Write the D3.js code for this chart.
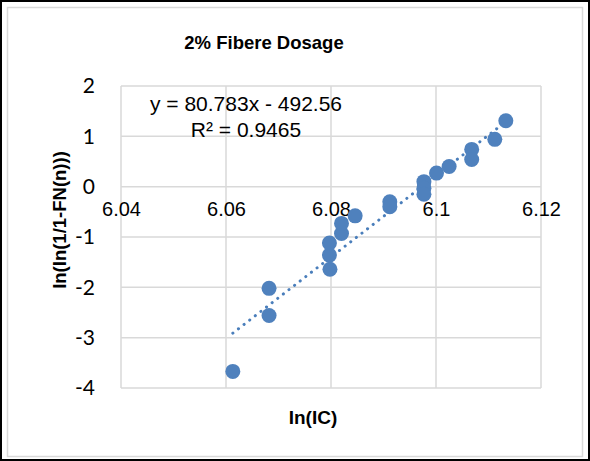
<!DOCTYPE html>
<html>
<head>
<meta charset="utf-8">
<script src="https://cdn.jsdelivr.net/npm/d3@7"></script>
<style>
  body { margin: 0; background: #fff; }
  svg { display: block; }
</style>
</head>
<body>
<svg id="chart"></svg>
<script>
// data: ln(IC) vs ln(ln(1/1-FN(n)))
let lnIC = [6.0613, 6.0682, 6.0682, 6.0798, 6.0797, 6.0797, 6.0820, 6.0820, 6.0846,
            6.0912, 6.0912, 6.0977, 6.0977, 6.0977, 6.1001, 6.1025, 6.1068, 6.1068,
            6.1112, 6.1133];
let lnLn = [-3.67, -2.02, -2.56, -1.64, -1.36, -1.12, -0.93, -0.73, -0.58,
            -0.30, -0.40, 0.10, -0.03, -0.15, 0.27, 0.40, 0.74, 0.54,
            0.94, 1.31];
let xTicks = [6.04, 6.06, 6.08, 6.1, 6.12];
let yTicks = [2, 1, 0, -1, -2, -3, -4];
let trend = [80.783, -492.56];   // slope, intercept
let rSquared = 0.9465;

let points = lnIC.map((x, i) => ({x: x, y: lnLn[i]}));

//config
function getConfig(){
    let width = 590;
    let height = 461;
    let margin = {top: 86, bottom: 73, left: 121, right: 49};
    let bodyWidth = width - margin.left - margin.right;
    let bodyHeight = height - margin.top - margin.bottom;
    let container = d3.select('#chart')
        .attr('width', width)
        .attr('height', height);
    return {width, height, margin, bodyWidth, bodyHeight, container};
}

//scales
function getScales(config){
    let xScale = d3.scaleLinear()
        .domain([6.04, 6.12])
        .range([0, config.bodyWidth]);
    let yScale = d3.scaleLinear()
        .domain([-4, 2])
        .range([config.bodyHeight, 0]);
    return {xScale, yScale};
}

//frames round the chart
function drawFrame(config){
    let {container, width, height} = config;
    container.append('rect')
        .attr('x', 1).attr('y', 1)
        .attr('width', width - 2).attr('height', height - 2)
        .attr('fill', 'none').attr('stroke', '#000').attr('stroke-width', 2);
    container.append('rect')
        .attr('x', 7.5).attr('y', 7.5)
        .attr('width', width - 15).attr('height', height - 12)
        .attr('fill', 'none').attr('stroke', '#d9d9d9').attr('stroke-width', 1.5);
}

//grid + axes
function drawAxes(scales, config){
    let {xScale, yScale} = scales;
    let {container, margin, bodyWidth, bodyHeight} = config;
    let body = container.append('g')
        .attr('transform', `translate(${margin.left},${margin.top})`);

    body.append('g').selectAll('line.v')
        .data(xTicks)
        .enter().append('line')
        .attr('x1', d => xScale(d)).attr('x2', d => xScale(d))
        .attr('y1', 0).attr('y2', bodyHeight)
        .attr('stroke', '#d9d9d9').attr('stroke-width', 1.5);

    body.append('g').selectAll('line.h')
        .data(yTicks)
        .enter().append('line')
        .attr('x1', 0).attr('x2', bodyWidth)
        .attr('y1', d => yScale(d)).attr('y2', d => yScale(d))
        .attr('stroke', '#d9d9d9').attr('stroke-width', 1.5);

    // x axis crosses at y = 0, labels sit just under it
    let axisX = d3.axisBottom(xScale)
        .tickValues(xTicks)
        .tickSize(0)
        .tickPadding(15)
        .tickFormat(d => String(d));
    let gx = body.append('g')
        .attr('transform', `translate(0,${yScale(0)})`)
        .call(axisX);
    gx.select('.domain').remove();
    gx.selectAll('text')
        .attr('font-family', 'Liberation Sans, Arial, sans-serif')
        .attr('font-size', 20)
        .attr('fill', '#000');

    let axisY = d3.axisLeft(yScale)
        .tickValues(yTicks)
        .tickSize(0)
        .tickPadding(26)
        .tickFormat(d => String(d));
    let gy = body.append('g').call(axisY);
    gy.select('.domain').remove();
    gy.selectAll('text')
        .attr('font-family', 'Lato, Liberation Sans, sans-serif')
        .attr('font-size', 21)
        .attr('fill', '#000');

    return body;
}

//points + trendline
function drawMarks(body, scales){
    let {xScale, yScale} = scales;
    let x0 = d3.min(lnIC), x1 = d3.max(lnIC);
    let line = d3.line()
        .x(d => xScale(d[0]))
        .y(d => yScale(d[1]));
    body.append('path')
        .datum([[x0, trend[0] * x0 + trend[1]], [x1, trend[0] * x1 + trend[1]]])
        .attr('d', line)
        .attr('fill', 'none')
        .attr('stroke', '#4a7ebb')
        .attr('stroke-width', 3)
        .attr('stroke-linecap', 'round')
        .attr('stroke-dasharray', '0.1 7');

    body.selectAll('.pt')
        .data(points)
        .enter().append('circle')
        .attr('class', 'pt')
        .attr('cx', d => xScale(d.x))
        .attr('cy', d => yScale(d.y))
        .attr('r', 7.5)
        .attr('fill', '#4f81bd');
}

//texts
function drawTexts(config){
    let {container} = config;
    container.append('text')
        .attr('x', 264).attr('y', 49)
        .attr('text-anchor', 'middle')
        .attr('font-family', 'Liberation Sans, Arial, sans-serif')
        .attr('font-weight', 'bold')
        .attr('font-size', 18.5)
        .text('2% Fibere Dosage');

    container.append('text')
        .attr('x', 246).attr('y', 111)
        .attr('text-anchor', 'middle')
        .attr('font-family', 'Liberation Sans, Arial, sans-serif')
        .attr('font-size', 21)
        .text(`y = ${trend[0]}x - ${Math.abs(trend[1])}`);
    container.append('text')
        .attr('x', 246).attr('y', 137)
        .attr('text-anchor', 'middle')
        .attr('font-family', 'Liberation Sans, Arial, sans-serif')
        .attr('font-size', 21)
        .text(`R² = ${rSquared}`);

    container.append('text')
        .attr('x', 313).attr('y', 424)
        .attr('text-anchor', 'middle')
        .attr('font-family', 'Liberation Sans, Arial, sans-serif')
        .attr('font-weight', 'bold')
        .attr('font-size', 19)
        .text('In(IC)');

    container.append('text')
        .attr('transform', 'translate(66,220) rotate(-90)')
        .attr('text-anchor', 'middle')
        .attr('font-family', 'Liberation Sans, Arial, sans-serif')
        .attr('font-weight', 'bold')
        .attr('font-size', 18.5)
        .text('In(In(1/1-FN(n)))');
}

function drawChart(){
    let config = getConfig();
    let scales = getScales(config);
    drawFrame(config);
    let body = drawAxes(scales, config);
    drawMarks(body, scales);
    drawTexts(config);
}
drawChart();
</script>
</body>
</html>
